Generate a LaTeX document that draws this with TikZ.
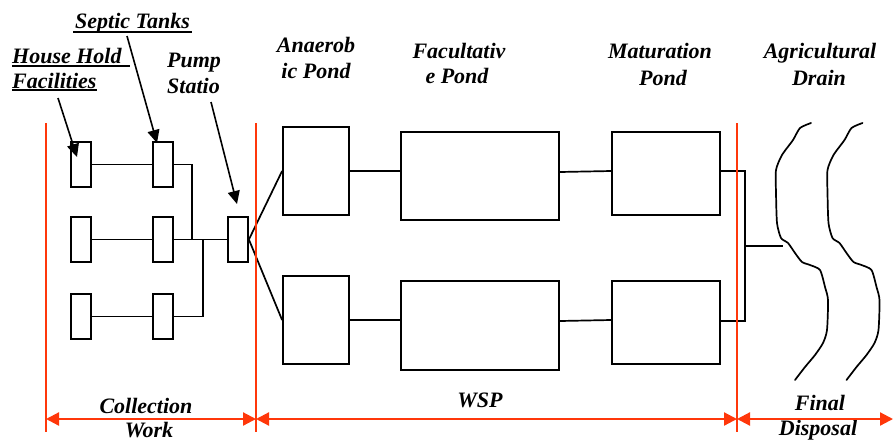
\documentclass[tikz,border=0pt]{standalone}
\usepackage{fontspec}
\setmainfont{Liberation Serif}
\usetikzlibrary{arrows.meta,calc}
\definecolor{dimred}{RGB}{255,55,10}
\begin{document}
\begin{tikzpicture}[x=1pt,y=-1pt,
  lbl/.style={font=\fontsize{22}{25.5}\selectfont\bfseries\itshape, inner sep=0pt, anchor=base},
  lbll/.style={lbl, anchor=base west},
  blk/.style={draw, line width=1.8pt, inner sep=0pt},
  wire/.style={line width=1.7pt},
  uline/.style={line width=2pt},
  pointer/.style={line width=1.6pt, -{Triangle[length=13pt,width=12pt]}},
  zone/.style={draw=dimred, line width=1.6pt},
  span/.style={draw=dimred, line width=2.2pt, {Triangle[length=13pt,width=13pt,fill=dimred]}-{Triangle[length=13pt,width=13pt,fill=dimred]}},
  drain/.style={line width=1.7pt, line join=round, line cap=round}
]
\useasboundingbox (0,0) rectangle (893,440);

% ---- labels
\node[lbl] (sep) at (132.5,28) {Septic Tanks};
\node[lbll] (hh1) at (12,63) {House Hold};
\node[lbll] (hh2) at (12,88) {Facilities};
\node[lbll] (pu1) at (167,67) {Pump};
\node[lbll] (pu2) at (167,93) {Statio};
\node[lbl] (an1t) at (316,52) {Anaerob};
\node[lbl] (an2t) at (316,78) {ic Pond};
\node[lbl] (fa1t) at (459,58) {Facultativ};
\node[lbl] (fa2t) at (457,83) {e Pond};
\node[lbl] (ma1t) at (660,58) {Maturation};
\node[lbl] (ma2t) at (663,85) {Pond};
\node[lbl] (ag1t) at (820,58) {Agricultural};
\node[lbl] (ag2t) at (819,85) {Drain};
\node[lbl] (co1t) at (146,413) {Collection};
\node[lbl] (co2t) at (149,437) {Work};
\node[lbl] (wspt) at (480,407) {WSP};
\node[lbl] (fi1t) at (820,410) {Final};
\node[lbl] (fi2t) at (818,435) {Disposal};

% underlines
\draw[uline] (73,32) -- (192,32);
\draw[uline] (12,66) -- (130,66);
\draw[uline] (12,90) -- (97,90);

% ---- collection boxes
\foreach \r/\y in {1/164.5,2/239.5,3/316.5}{
  \node[blk, minimum width=20pt, minimum height=45pt] (h\r) at (81,\y) {};
  \node[blk, minimum width=20pt, minimum height=45pt] (s\r) at (163,\y) {};
  \draw[wire] (h\r.east) -- (s\r.west);
}
\node[blk, minimum width=20pt, minimum height=45pt] (pump) at (238,239.5) {};
\coordinate (j1) at (192,0);
\coordinate (j3) at (203,0);
\draw[wire] (s1.east) -- (s1.east -| j1) -- (s2.east -| j1);
\draw[wire] (s2.east) -- (pump.west);
\draw[wire] (s3.east) -- (s3.east -| j3) -- (s2.east -| j3);

% pointers
\coordinate (hhp) at (58,98);   \coordinate (hhq) at (77,157);
\coordinate (sepp) at (127,36); \coordinate (sepq) at (157,143);
\coordinate (pup) at (211,102); \coordinate (puq) at (237,204);
\draw[pointer] (hhp) -- (hhq);
\draw[pointer] (sepp) -- (sepq);
\draw[pointer] (pup) -- (puq);

% ---- ponds
\node[blk, minimum width=66pt, minimum height=88pt] (an1) at (316,171) {};
\node[blk, minimum width=66pt, minimum height=88pt] (an2) at (316,320) {};
\node[blk, minimum width=158pt, minimum height=88pt] (fa1) at (480,176) {};
\node[blk, minimum width=158pt, minimum height=89pt] (fa2) at (480,325.5) {};
\node[blk, minimum width=108pt, minimum height=83pt] (ma1) at (666,173.5) {};
\node[blk, minimum width=108pt, minimum height=83pt] (ma2) at (666,322.5) {};

\draw[wire] (pump.east) -- (an1.west);
\draw[wire] (pump.east) -- (an2.west);
\draw[wire] (an1.east) -- (an1.east -| fa1.west);
\draw[wire] (an2.east) -- (an2.east -| fa2.west);
\draw[wire] (fa1.east |- 0,172) -- (ma1.west |- 0,171);
\draw[wire] (fa2.east |- 0,321) -- (ma2.west |- 0,320);

\coordinate (cx) at (745,0);
\coordinate (din) at (783,246);
\draw[wire] (ma1.east |- 0,171) -- (cx |- 0,171) -- (cx |- 0,321) -- (ma2.east |- 0,321);
\draw[wire] (cx |- din) -- (din);

% ---- drains
\foreach \dx in {0,51.5}{
\draw[drain, xshift=\dx] plot[smooth, tension=0.4] coordinates {
 (811,123) (800,128) (793,140) (782,155) (776,170) (776,193) (777,223)
 (781,238) (788,243) (795,253) (802,262) (810,265) (820,270) (825,287)
 (828,300) (827,330) (823,343) (815,355) (805,367) (795,380)};
}

% ---- zones
\coordinate (zA) at (46,419);
\coordinate (zB) at (256,419);
\coordinate (zC) at (737,419);
\coordinate (zD) at (893,419);
\draw[zone] (46,123) -- (46,432);
\draw[zone] (256,123) -- (256,432);
\draw[zone] (737,123) -- (737,432);
\draw[span] (zA) -- (zB);
\draw[span] (zB) -- (zC);
\draw[span] (zC) -- (zD);
\end{tikzpicture}
\end{document}
